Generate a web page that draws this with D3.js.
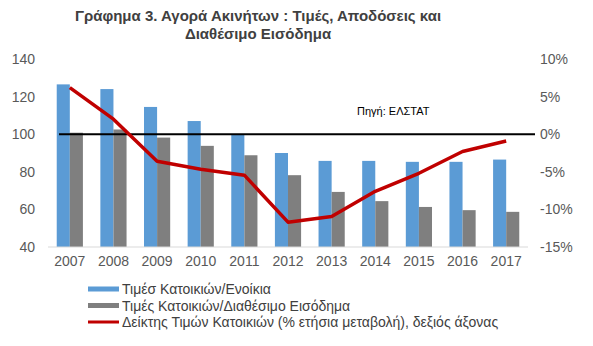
<!DOCTYPE html>
<html>
<head>
<meta charset="utf-8">
<script src="https://cdn.jsdelivr.net/npm/d3@7/dist/d3.min.js"></script>
<style>
  html, body { margin: 0; padding: 0; background: #fff; }
  svg { display: block; font-family: "Liberation Sans", Arial, sans-serif; }
</style>
</head>
<body>
<svg id="chart" width="593" height="346"></svg>
<script>
// Years on the category axis
const years = ["2007","2008","2009","2010","2011","2012","2013","2014","2015","2016","2017"];
// House prices / rents (index)
const priceRent = [126.5, 124, 114.5, 107, 100, 90, 85.8, 85.8, 85.3, 85.3, 86.5];
// House prices / disposable income (index)
const priceIncome = [100.8, 102.5, 98.2, 93.8, 88.8, 78.2, 69.3, 64.4, 61.3, 59.6, 58.7];
// House price index, % annual change (right axis)
const priceChange = [6.2, 2.0, -3.6, -4.65, -5.45, -11.7, -10.95, -7.6, -5.2, -2.3, -0.9];

const leftTicks = [40, 60, 80, 100, 120, 140];
const rightTicks = [-15, -10, -5, 0, 5, 10];

const seriesNames = [
  "Τιμέσ Κατοικιών/Ενοίκια",
  "Τιμές Κατοικιών/Διαθέσιμο Εισόδημα",
  "Δείκτης Τιμών Κατοικιών (% ετήσια μεταβολή), δεξιός άξονας"
];
const colors = ["#5B9BD5", "#7F7F7F", "#C00000"];

const svg = d3.select("#chart");
const plot = { left: 48, right: 528, top: 59, bottom: 247 };

const x = d3.scaleBand().domain(years).range([plot.left, plot.right])
  .paddingInner(0.4).paddingOuter(0.2);
const xSub = d3.scaleBand().domain([0, 1]).range([0, x.bandwidth()]);
const yL = d3.scaleLinear().domain([40, 140]).range([plot.bottom, plot.top]);
const yR = d3.scaleLinear().domain([-15, 10]).range([plot.bottom, plot.top]);

// Title
const title = svg.append("text")
  .attr("x", 258).attr("text-anchor", "middle")
  .attr("font-size", 15).attr("font-weight", "bold").attr("fill", "#404040");
title.append("tspan").attr("x", 258).attr("y", 21).text("Γράφημα 3. Αγορά Ακινήτων : Τιμές, Αποδόσεις και");
title.append("tspan").attr("x", 258).attr("y", 39).text("Διαθέσιμο Εισόδημα");

// Bars
const groups = svg.append("g").selectAll("g").data(years).join("g")
  .attr("transform", d => `translate(${x(d)},0)`);
[priceRent, priceIncome].forEach((vals, si) => {
  groups.append("rect")
    .attr("x", xSub(si))
    .attr("width", xSub.bandwidth())
    .attr("y", (d, i) => yL(vals[i]))
    .attr("height", (d, i) => yL(40) - yL(vals[i]))
    .attr("fill", colors[si]);
});

// Category baseline
svg.append("line")
  .attr("x1", plot.left).attr("x2", plot.right)
  .attr("y1", yL(40)).attr("y2", yL(40))
  .attr("stroke", "#D9D9D9").attr("stroke-width", 1);

// Reference line at 100 / 0%
svg.append("line")
  .attr("x1", 59).attr("x2", 535)
  .attr("y1", yL(100)).attr("y2", yL(100))
  .attr("stroke", "#000").attr("stroke-width", 2);

// Left axis
const axL = d3.axisLeft(yL).tickValues(leftTicks).tickSize(0).tickPadding(0);
svg.append("g").attr("transform", "translate(35,0)").call(axL)
  .call(g => g.select(".domain").remove())
  .call(g => g.selectAll("text").attr("font-size", 14).attr("fill", "#595959")
    .attr("font-family", "Liberation Sans, Arial, sans-serif"));

// Right axis
const axR = d3.axisRight(yR).tickValues(rightTicks).tickSize(0).tickPadding(0)
  .tickFormat(d => d + "%");
svg.append("g").attr("transform", "translate(540,0)").call(axR)
  .call(g => g.select(".domain").remove())
  .call(g => g.selectAll("text").attr("font-size", 14).attr("fill", "#595959")
    .attr("font-family", "Liberation Sans, Arial, sans-serif"));

// Bottom axis
const axB = d3.axisBottom(x).tickSize(0).tickPadding(0);
svg.append("g").attr("transform", `translate(0,${plot.bottom + 9})`).call(axB)
  .call(g => g.select(".domain").remove())
  .call(g => g.selectAll("text").attr("font-size", 14).attr("fill", "#595959")
    .attr("font-family", "Liberation Sans, Arial, sans-serif"));

// Line series (right axis)
const line = d3.line()
  .x((d, i) => x(years[i]) + x.bandwidth() / 2)
  .y(d => yR(d));
svg.append("path").datum(priceChange)
  .attr("d", line).attr("fill", "none")
  .attr("stroke", colors[2]).attr("stroke-width", 3.5)
  .attr("stroke-linejoin", "round");

// Source note
svg.append("text").attr("x", 357).attr("y", 115)
  .attr("font-size", 11).attr("fill", "#000").text("Πηγή: ΕΛΣΤΑΤ");

// Legend
const legend = svg.append("g");
seriesNames.forEach((name, i) => {
  const yy = 289 + i * 16.5;
  legend.append("rect")
    .attr("x", 88).attr("width", 31)
    .attr("y", yy - (i < 2 ? 2.5 : 1.5)).attr("height", i < 2 ? 5 : 3)
    .attr("fill", colors[i]);
  legend.append("text").attr("x", 122).attr("y", yy + 5)
    .attr("font-size", 14).attr("fill", "#404040").text(name);
});
</script>
</body>
</html>
